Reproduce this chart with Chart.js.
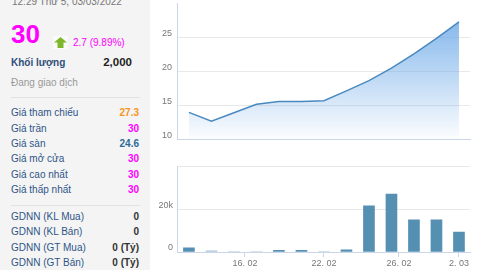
<!DOCTYPE html>
<html>
<head>
<meta charset="utf-8">
<script src="https://cdn.jsdelivr.net/npm/chart.js@4.4.0/dist/chart.umd.min.js"></script>
<style>
  body { margin: 0; width: 480px; height: 270px; overflow: hidden; background: #fff; position: relative;
         font-family: "Liberation Sans", Arial, sans-serif; }
  #info { position: absolute; left: 0; top: 0; width: 150px; height: 270px; background: #f4f4f4; }
  .t { position: absolute; white-space: nowrap; }
  .row { position: absolute; left: 11px; width: 128px; height: 12px; font-size: 10px; line-height: 12px; color: #2f5587; }
  .row b { position: absolute; right: 0; top: 0; }
  .sep { position: absolute; left: 11px; width: 129px; height: 1px; background: #e2e2e2; }
  .mag { color: #f0f; }
  .dark { color: #333; }
  canvas { position: absolute; left: 150px; }
</style>
</head>
<body>
<div id="info">
  <div class="t" style="left:12px;top:-4.5px;font-size:10px;line-height:12px;color:#777">12:29 Thứ 5, 03/03/2022</div>
  <div class="t" style="left:11px;top:21px;font-size:26px;line-height:26px;font-weight:bold;color:#f0f">30</div>
  <svg class="t" style="left:53px;top:36px" width="15" height="13">
    <rect width="15" height="13" fill="#fafafa"/>
    <polygon points="7.5,1 14,6.5 10.5,6.5 10.5,12 4.5,12 4.5,6.5 1,6.5" fill="#7cb82a"/>
  </svg>
  <div class="t" style="left:73px;top:36.5px;font-size:10px;line-height:12px;color:#f0f">2.7 (9.89%)</div>
  <div class="t" style="left:11px;top:57px;font-size:10px;line-height:12px;font-weight:bold;color:#2e4f7a">Khối lượng</div>
  <div class="t" style="right:18px;top:55.5px;font-size:11.5px;line-height:13px;font-weight:bold;color:#222">2,000</div>
  <div class="t" style="left:11px;top:76.5px;font-size:10px;line-height:12px;color:#999">Đang giao dịch</div>
  <div class="sep" style="top:97px"></div>
  <div class="row" style="top:107.3px">Giá tham chiếu<b style="color:#f7941d">27.3</b></div>
  <div class="row" style="top:122.5px">Giá trần<b class="mag">30</b></div>
  <div class="row" style="top:137.8px">Giá sàn<b style="color:#2b6a99">24.6</b></div>
  <div class="row" style="top:153.3px">Giá mở cửa<b class="mag">30</b></div>
  <div class="row" style="top:168.5px">Giá cao nhất<b class="mag">30</b></div>
  <div class="row" style="top:184px">Giá thấp nhất<b class="mag">30</b></div>
  <div class="sep" style="top:205px"></div>
  <div class="row" style="top:210.8px">GDNN (KL Mua)<b class="dark">0</b></div>
  <div class="row" style="top:226.3px">GDNN (KL Bán)<b class="dark">0</b></div>
  <div class="row" style="top:241.8px">GDNN (GT Mua)<b class="dark">0 (Tỷ)</b></div>
  <div class="row" style="top:257.3px">GDNN (GT Bán)<b class="dark">0 (Tỷ)</b></div>
</div>
<canvas id="price" width="330" height="157" style="top:-7px"></canvas>
<canvas id="volume" width="330" height="113" style="top:157px"></canvas>
<script>
// trading sessions 14.02 .. 02.03 (index on an ordinal axis)
const days = [0, 1, 2, 3, 4, 5, 6, 7, 8, 9, 10, 11, 12];
const prices = [14.0, 12.7, 13.95, 15.2, 15.6, 15.6, 15.7, 17.15, 18.65, 20.5, 22.6, 24.85, 27.3];
const volumes = [2000, 500, 0, 0, 800, 800, 0, 1000, 21600, 27100, 15000, 15000, 9300];
const priceTicks = [10, 15, 20, 25];
const volumeTicks = [0, 20000, 40000];
const dateTickPos = [2.49, 6, 9.33, 12];
const dateTickLabels = ["16. 02", "22. 02", "26. 02", "2. 03"];

const axisFont = { size: 9, family: "'Liberation Sans', Arial, sans-serif" };
const axisColor = "#ccd6eb";
const gridColor = "#e8e8e8";

new Chart(document.getElementById("price"), {
  type: "line",
  data: {
    datasets: [
      {
        data: days.map((d, i) => ({ x: d, y: prices[i] })),
        borderColor: "#4a89bf",
        borderWidth: 1.5,
        pointRadius: 0,
        tension: 0,
        fill: "start",
        backgroundColor: (c) => {
          const { ctx, chartArea } = c.chart;
          if (!chartArea) return "rgba(110,170,232,0.3)";
          const g = ctx.createLinearGradient(0, chartArea.top, 0, chartArea.bottom);
          g.addColorStop(0, "rgba(110,170,232,0.95)");
          g.addColorStop(1, "rgba(110,170,232,0.02)");
          return g;
        },
      },
    ],
  },
  options: {
    responsive: false,
    animation: false,
    events: [],
    layout: { padding: { left: 0, right: 10, top: 0, bottom: 0 } },
    plugins: { legend: { display: false }, tooltip: { enabled: false } },
    scales: {
      x: {
        type: "linear",
        min: -0.53,
        max: 12.49,
        ticks: { display: false },
        grid: { display: false },
        border: { color: axisColor },
        afterFit: (s) => { s.height = 2; },
      },
      y: {
        min: 10,
        max: 30,
        afterBuildTicks: (s) => { s.ticks = priceTicks.map((v) => ({ value: v })); },
        ticks: { color: "#777", font: axisFont, padding: 5, labelOffset: -4 },
        grid: { color: gridColor, drawTicks: false },
        border: { color: axisColor },
        afterFit: (s) => { s.width = 27; },
      },
    },
  },
});

new Chart(document.getElementById("volume"), {
  type: "bar",
  data: {
    datasets: [
      {
        data: days.map((d, i) => ({ x: d, y: volumes[i] })),
        backgroundColor: days.map((d, i) => (i > 0 && prices[i] < prices[i - 1] ? "#a6c3d8" : "#5590b3")),
        barThickness: 11,
      },
    ],
  },
  options: {
    responsive: false,
    animation: false,
    events: [],
    layout: { padding: { left: 0, right: 10, top: 5, bottom: 0 } },
    plugins: { legend: { display: false }, tooltip: { enabled: false } },
    scales: {
      x: {
        type: "linear",
        offset: false,
        min: -0.53,
        max: 12.49,
        afterBuildTicks: (s) => { s.ticks = dateTickPos.map((v) => ({ value: v })); },
        ticks: {
          color: "#777",
          font: axisFont,
          padding: 1,
          autoSkip: false,
          maxRotation: 0,
          callback: (v, i) => dateTickLabels[i],
        },
        grid: { offset: false, drawOnChartArea: false, color: axisColor, tickLength: 5 },
        border: { color: axisColor },
        afterFit: (s) => { s.height = 18; },
      },
      y: {
        min: 0,
        max: 40000,
        afterBuildTicks: (s) => { s.ticks = volumeTicks.map((v) => ({ value: v })); },
        ticks: {
          color: "#777",
          font: axisFont,
          padding: 4,
          labelOffset: -4,
          callback: (v) => (v === 0 ? "0" : v < 40000 ? v / 1000 + "k" : ""),
        },
        grid: { color: gridColor, drawTicks: false },
        border: { color: axisColor },
        afterFit: (s) => { s.width = 27; },
      },
    },
  },
});
</script>
</body>
</html>
